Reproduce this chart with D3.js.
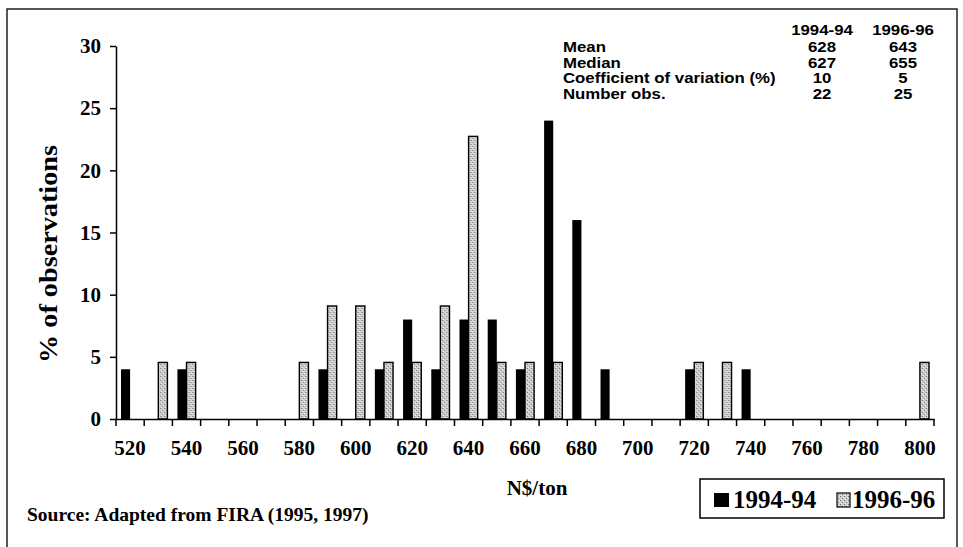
<!DOCTYPE html>
<html>
<head>
<meta charset="utf-8">
<script src="https://cdn.jsdelivr.net/npm/d3@7"></script>
<style>
  html, body { margin: 0; padding: 0; background: #fff; }
  svg { display: block; }
</style>
</head>
<body>
<div id="chart"></div>
<script>
// Price classes (N$/ton)
const categories = [520, 530, 540, 550, 560, 570, 580, 590, 600, 610, 620, 630, 640, 650,
  660, 670, 680, 690, 700, 710, 720, 730, 740, 750, 760, 770, 780, 790, 800];
const labelTicks = [520, 540, 560, 580, 600, 620, 640, 660, 680, 700, 720, 740, 760, 780, 800];
const yTicks = [0, 5, 10, 15, 20, 25, 30];

// % of observations per class
const series94 = [4, 0, 4, 0, 0, 0, 0, 4, 0, 4, 8, 4, 8, 8, 4, 24, 16, 4, 0, 0, 4, 0, 4, 0, 0, 0, 0, 0, 0];
const series96 = [0, 4.55, 4.55, 0, 0, 0, 4.55, 9.09, 9.09, 4.55, 4.55, 9.09, 22.73, 4.55, 4.55, 4.55,
  0, 0, 0, 0, 4.55, 4.55, 0, 0, 0, 0, 0, 0, 4.55];
const seriesNames = ["1994-94", "1996-96"];

// Summary table
const statLabels = ["Mean", "Median", "Coefficient of variation (%)", "Number obs."];
const stats94 = [628, 627, 10, 22];
const stats96 = [643, 655, 5, 25];

const width = 963;
const height = 547;
const serif = "'Liberation Serif', 'Times New Roman', serif";
const sans = "'Liberation Sans', Arial, sans-serif";

const svg = d3.select("#chart").append("svg")
  .attr("width", width)
  .attr("height", height);

// Speckled gray fill for the 1996-96 bars
const defs = svg.append("defs");
const pat = defs.append("pattern")
  .attr("id", "speckle")
  .attr("patternUnits", "userSpaceOnUse")
  .attr("width", 4)
  .attr("height", 4);
pat.append("rect").attr("width", 4).attr("height", 4).attr("fill", "#cdcdcd");
pat.append("rect").attr("x", 0).attr("y", 0).attr("width", 1).attr("height", 1).attr("fill", "#6f6f6f");
pat.append("rect").attr("x", 2).attr("y", 2).attr("width", 1).attr("height", 1).attr("fill", "#808080");
pat.append("rect").attr("x", 3).attr("y", 1).attr("width", 1).attr("height", 1).attr("fill", "#f2f2f2");
pat.append("rect").attr("x", 1).attr("y", 3).attr("width", 1).attr("height", 1).attr("fill", "#f2f2f2");

// Outer frame (runs off the bottom edge)
svg.append("rect")
  .attr("x", 7)
  .attr("y", 9)
  .attr("width", 950)
  .attr("height", 580)
  .attr("fill", "none")
  .attr("stroke", "#222")
  .attr("stroke-width", 1.5);

// Scales
const x = d3.scaleBand()
  .domain(categories)
  .range([116, 934])
  .paddingInner(0)
  .paddingOuter(0);

const xs = d3.scaleBand()
  .domain(seriesNames)
  .range([0, x.bandwidth()])
  .paddingInner(0)
  .paddingOuter(0.55);

const y = d3.scaleLinear()
  .domain([0, 30])
  .range([419, 46]);

const rows = categories.map((c, i) => ({ cat: c, v: [series94[i], series96[i]] }));

// Bars
const groups = svg.append("g").selectAll("g")
  .data(rows)
  .join("g")
  .attr("transform", d => `translate(${x(d.cat)},0)`);

groups.selectAll("rect")
  .data(d => d.v.map((v, j) => ({ name: seriesNames[j], v })).filter(e => e.v > 0))
  .join("rect")
  .attr("x", d => xs(d.name))
  .attr("y", d => y(d.v))
  .attr("width", xs.bandwidth())
  .attr("height", d => y(0) - y(d.v))
  .attr("fill", d => d.name === "1994-94" ? "#000" : "url(#speckle)")
  .attr("stroke", "#000")
  .attr("stroke-width", d => d.name === "1994-94" ? 0 : 1.4);

// Y axis
const yAxis = svg.append("g")
  .attr("transform", "translate(116,0)")
  .call(d3.axisLeft(y).tickValues(yTicks).tickSize(6).tickSizeOuter(0).tickPadding(9));
yAxis.select(".domain").attr("stroke", "#000").attr("stroke-width", 1.5);
yAxis.selectAll(".tick line").attr("stroke", "#000").attr("stroke-width", 1.5);
yAxis.selectAll(".tick text")
  .attr("fill", "#000")
  .style("font-family", serif)
  .style("font-weight", "bold")
  .style("font-size", "21px");

// X axis: labels under every other class, ticks on class boundaries
const xAxis = svg.append("g")
  .attr("transform", "translate(0,419)")
  .call(d3.axisBottom(x).tickValues(labelTicks).tickSize(0).tickPadding(21));
xAxis.select(".domain").attr("stroke", "#000").attr("stroke-width", 1.5);
xAxis.selectAll(".tick text")
  .attr("fill", "#000")
  .style("font-family", serif)
  .style("font-weight", "bold")
  .style("font-size", "21px");

const bounds = categories.map(c => x(c)).concat([x(categories[categories.length - 1]) + x.bandwidth()]);
xAxis.selectAll("line.boundary")
  .data(bounds)
  .join("line")
  .attr("class", "boundary")
  .attr("x1", d => d)
  .attr("x2", d => d)
  .attr("y1", 0)
  .attr("y2", 7)
  .attr("stroke", "#000")
  .attr("stroke-width", 1.5);

// Axis titles
svg.append("text")
  .attr("transform", "translate(57,254) rotate(-90)")
  .attr("text-anchor", "middle")
  .attr("textLength", 218)
  .attr("lengthAdjust", "spacingAndGlyphs")
  .style("font-family", serif)
  .style("font-weight", "bold")
  .style("font-size", "25px")
  .text("% of observations");

svg.append("text")
  .attr("x", 537)
  .attr("y", 495)
  .attr("text-anchor", "middle")
  .style("font-family", serif)
  .style("font-weight", "bold")
  .style("font-size", "21px")
  .text("N$/ton");

// Source note
svg.append("text")
  .attr("x", 27)
  .attr("y", 521)
  .style("font-family", serif)
  .style("font-weight", "bold")
  .style("font-size", "19.5px")
  .text("Source: Adapted from FIRA (1995, 1997)");

// Legend
const legend = svg.append("g");
legend.append("rect")
  .attr("x", 700)
  .attr("y", 479)
  .attr("width", 244)
  .attr("height", 39)
  .attr("fill", "#fff")
  .attr("stroke", "#000")
  .attr("stroke-width", 1.5);

const legendItems = [
  { name: seriesNames[0], box: 714, text: 733 },
  { name: seriesNames[1], box: 837, text: 852 }
];
legendItems.forEach((d, i) => {
  legend.append("rect")
    .attr("x", d.box)
    .attr("y", 493)
    .attr("width", i === 0 ? 15 : 13)
    .attr("height", 14)
    .attr("fill", i === 0 ? "#000" : "url(#speckle)")
    .attr("stroke", "#000")
    .attr("stroke-width", i === 0 ? 0 : 1.2);
  legend.append("text")
    .attr("x", d.text)
    .attr("y", 508)
    .style("font-family", serif)
    .style("font-weight", "bold")
    .style("font-size", "25px")
    .text(d.name);
});

// Summary table (glyphs slightly widened, as in the scan)
const table = svg.append("g")
  .style("font-family", sans)
  .style("font-weight", "bold")
  .style("font-size", "15px");

const colX = [822, 903];
const put = (tx, ty, txt, anchor) => table.append("text")
  .attr("transform", `translate(${tx},${ty}) scale(1.12,1)`)
  .attr("text-anchor", anchor)
  .text(txt);

seriesNames.forEach((n, j) => put(colX[j], 35, n, "middle"));

statLabels.forEach((lab, i) => {
  const yy = 52 + i * 15.5;
  put(563, yy, lab, "start");
  put(colX[0], yy, stats94[i], "middle");
  put(colX[1], yy, stats96[i], "middle");
});
</script>
</body>
</html>
